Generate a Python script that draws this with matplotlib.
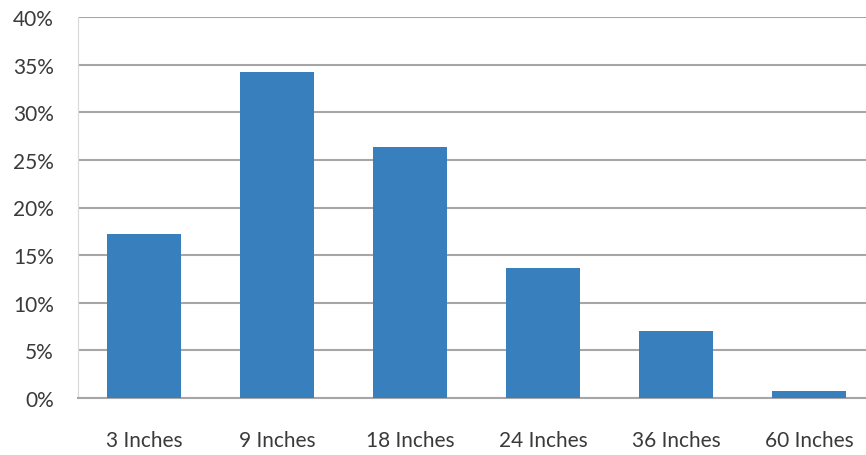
import matplotlib
matplotlib.use('Agg')
import matplotlib.pyplot as plt
from matplotlib.ticker import FuncFormatter

# share of readings per depth
depths = ['3 Inches', '9 Inches', '18 Inches', '24 Inches', '36 Inches', '60 Inches']
shares = [17.2, 34.2, 26.4, 13.7, 7.0, 0.75]
y_ticks = [0, 5, 10, 15, 20, 25, 30, 35, 40]

plt.rcParams['font.family'] = ['Lato', 'DejaVu Sans']

W, H = 866, 456
fig = plt.figure(figsize=(W / 100, H / 100), dpi=100)
# plot area runs a little past the right edge of the figure
ax = fig.add_axes([77.5 / W, 57 / H, 798 / W, 381 / H])

x = range(len(depths))
ax.bar(x, shares, width=0.56, color='#377fbd', zorder=3)

ax.set_xlim(-0.5, len(depths) - 0.5)
ax.set_ylim(0, 40)
ax.set_yticks(y_ticks)
ax.yaxis.set_major_formatter(FuncFormatter(lambda v, p: f'{v:.0f}%'))
ax.set_xticks(list(x))
ax.set_xticklabels(depths)

ax.grid(axis='y', color='#a6a6a6', linewidth=1.5, zorder=0)
for side in ['top', 'right']:
    ax.spines[side].set_visible(False)
ax.spines['left'].set_color('#d9d9d9')
ax.spines['bottom'].set_color('#a6a6a6')
ax.spines['bottom'].set_linewidth(1.5)

ax.tick_params(axis='y', length=0, pad=17, labelsize=15, labelcolor='#3a3a3a')
ax.tick_params(axis='x', length=0, pad=23, labelsize=15, labelcolor='#3a3a3a')

fig.savefig('out.png', dpi=100)
